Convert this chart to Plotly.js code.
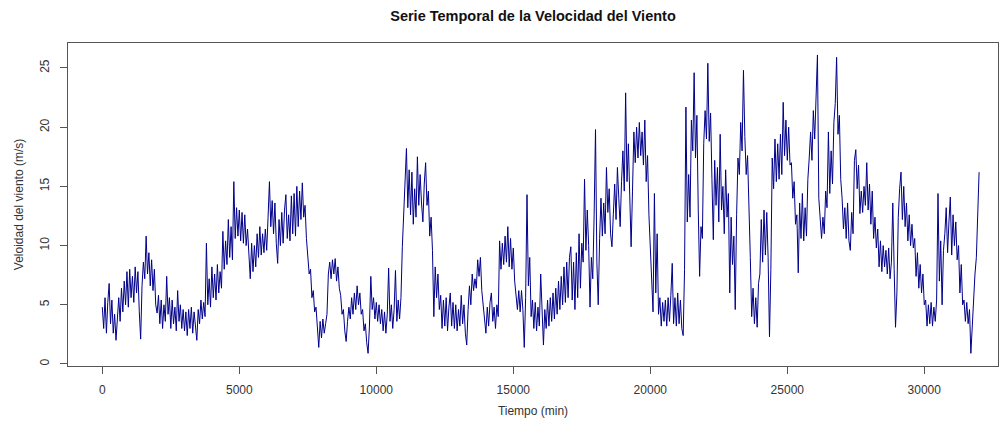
<!DOCTYPE html>
<html>
<head>
<meta charset="utf-8">
<script src="https://cdn.plot.ly/plotly-3.0.1.min.js"></script>
<style>
  html, body { margin: 0; padding: 0; background: #ffffff; overflow: hidden; }
  #chart { width: 1002px; height: 421px; }
</style>
</head>
<body>
<div id="chart"></div>
<script>
// Paso de muestreo (min) entre lecturas
const paso = 50;

const velocidad = [
  // 0 – 3400
  4.8,3.0,5.6,2.6,5.2,6.8,3.4,5.4,2.6,4.2, 2.0,3.8,5.6,3.6,6.4,4.4,7.0,5.0,7.8,4.8,
  8.0,5.6,7.4,5.2,8.2,6.0,7.8,4.4,2.1,6.6, 8.6,7.2,10.8,7.6,9.4,6.6,8.8,6.2,8.0,5.0,
  4.3,5.8,3.4,5.4,3.0,5.0,3.6,7.4,4.2,5.6, 3.0,5.4,3.4,4.8,2.8,6.2,3.6,5.0,3.0,4.6,
  2.8,4.4,2.4,4.6,3.0,4.8,2.6,4.4,3.2,
  // 3450 – 6800
  2.0,4.6,3.4,5.4,3.8,5.2,4.0,10.2,5.0,7.2, 4.8,8.2,5.6,7.6,5.4,8.4,6.0,7.8,6.4,11.2,
  8.0,10.4,8.4,12.2,9.0,11.6,8.8,15.4,10.6,13.2, 10.8,13.0,10.4,12.8,10.2,12.6,10.0,11.4,8.6,7.2,
  10.2,7.8,10.0,8.2,11.0,9.0,11.6,9.2,11.0,9.4, 11.4,9.6,12.4,15.4,11.6,13.8,11.0,13.6,10.2,8.5,
  12.2,10.0,12.8,10.2,13.0,14.3,10.6,12.6,
  // 6850 – 10200
  10.4,14.2,11.0,14.4,10.8,15.0,11.6,14.6,12.2,15.3, 12.4,13.4,10.6,9.0,7.6,8.0,5.6,6.2,4.4,4.8,
  2.6,1.4,3.6,2.2,3.8,2.6,3.4,4.2,7.6,8.6, 7.2,8.8,7.6,8.9,7.0,8.2,6.4,5.8,4.2,4.6,
  2.8,1.9,3.6,4.8,3.8,5.6,4.2,6.0,4.6,6.6, 5.0,6.0,4.2,4.6,2.8,3.4,1.8,0.9,3.2,7.4,
  4.6,5.6,3.8,5.2,3.6,5.0,3.4,4.6,
  // 10250 – 13700
  2.8,4.4,2.6,4.2,8.1,3.6,5.0,3.0,4.6,7.9, 3.6,5.4,3.8,5.6,9.9,12.4,16.0,18.2,13.2,16.4,
  12.6,16.2,11.8,14.8,12.4,17.5,13.4,16.0,13.6,12.0, 15.2,17.0,13.4,14.6,10.8,12.4,9.6,4.0,8.2,5.6,
  7.6,4.6,5.8,3.0,5.4,3.2,5.6,2.8,4.8,6.0, 3.2,5.2,3.0,5.0,2.8,4.6,3.2,5.8,3.4,5.0,
  2.6,1.6,4.6,6.6,5.0,7.6,6.2,7.2,6.4,8.8,
  // 13750 – 17200
  7.4,9.0,6.2,4.8,3.4,2.6,4.8,3.2,5.2,6.0, 3.6,4.8,3.0,5.0,4.0,10.4,8.0,10.2,8.4,10.8,
  8.6,11.6,8.2,10.6,8.0,9.8,7.0,6.0,4.6,6.2, 4.4,6.2,4.6,1.4,5.6,14.3,6.6,9.0,4.0,5.4,
  3.0,5.2,2.8,4.8,3.2,7.6,3.6,1.6,4.6,3.0, 5.4,3.2,5.6,3.6,6.0,3.8,6.4,4.2,7.0,4.6,
  7.4,5.0,8.2,5.2,8.6,5.6,9.0,9.9,5.4,8.6,
  // 17250 – 20700
  4.6,9.4,5.6,11.0,6.4,10.2,8.6,15.6,9.6,13.0, 10.0,4.8,9.0,7.2,12.6,19.8,8.6,5.0,10.6,14.0,
  10.8,13.6,11.0,16.6,12.8,14.8,11.0,9.9,12.6,15.2, 12.2,16.6,14.0,11.6,15.4,18.0,14.6,22.9,15.4,18.6,
  14.2,9.9,14.6,19.6,17.0,20.0,17.4,20.4,17.6,19.6, 16.8,20.6,15.4,17.6,12.6,10.0,6.4,4.4,14.4,6.0,
  11.0,4.2,5.6,3.2,5.2,3.6,5.4,3.2,5.6,3.6,
  // 20750 – 24100
  5.8,8.5,3.4,5.6,3.2,6.0,3.4,5.4,3.0,2.4, 8.0,21.7,12.0,16.0,12.4,20.6,18.0,24.6,17.4,21.0,
  13.0,7.4,11.6,10.6,18.6,21.4,19.0,25.4,18.8,21.2, 15.6,10.5,17.2,13.4,16.6,12.0,19.4,13.0,15.0,11.0,
  16.4,12.4,14.4,6.0,12.4,8.4,10.8,4.6,12.6,17.4, 16.0,20.4,18.0,24.8,19.2,16.0,17.6,13.8,9.0,4.0,
  6.4,3.4,5.6,3.1,6.8,7.6,12.2,8.6,
  // 24150 – 27600
  13.0,9.2,12.8,9.0,2.3,8.0,17.4,14.8,19.0,15.4, 18.6,15.6,19.4,16.0,22.1,17.6,20.6,17.2,20.0,16.8,
  17.0,14.0,15.4,11.8,12.6,7.7,13.6,10.6,14.4,10.4, 13.2,10.8,15.6,17.4,19.6,17.2,21.4,19.0,22.4,26.1,
  14.0,11.8,10.6,12.4,11.0,14.6,13.2,19.6,14.4,18.0, 15.2,20.4,22.0,25.9,19.4,21.0,15.6,14.0,11.4,13.2,
  10.6,13.6,10.4,9.6,12.8,11.0,17.2,18.1,14.8,16.8,
  // 27650 – 32000
  12.7,14.6,12.8,15.0,13.4,17.0,13.0,15.2,11.8,14.6, 10.6,12.4,9.8,11.4,8.2,10.4,7.8,10.0,8.2,9.6,
  7.6,9.8,7.2,8.6,13.6,8.0,3.1,6.0,12.4,14.8, 16.2,12.2,15.0,11.6,13.6,10.4,12.6,10.0,11.8,9.8,
  10.6,7.4,9.4,6.4,8.4,6.0,7.6,5.0,5.4,3.2, 5.0,3.4,5.2,3.2,4.8,3.6,5.4,14.4,7.0,10.4,
  5.0,9.6,11.0,13.2,9.4,12.0,14.1,9.2,12.6,10.0, 12.0,8.8,10.0,6.0,8.4,5.0,5.4,3.6,5.2,3.4,
  4.6,0.9,3.0,6.0,7.6,9.0,12.0,16.2
];

// Índice temporal (min)
const tiempo = velocidad.map((_, i) => i * paso);

// Etiquetas de los ejes
const xTicks = [0, 5000, 10000, 15000, 20000, 25000, 30000];
const yTicks = [0, 5, 10, 15, 20, 25];

const titulo = 'Serie Temporal de la Velocidad del Viento';
const tituloX = 'Tiempo (min)';
const tituloY = 'Veloidad del viento (m/s)';

const fuente = 'Liberation Sans, Arial, Helvetica, sans-serif';

const trace = {
  x: tiempo,
  y: velocidad,
  type: 'scatter',
  mode: 'lines',
  line: { color: '#00008B', width: 1 },
  hoverinfo: 'x+y'
};

const axisCommon = {
  showgrid: false,
  zeroline: false,
  showline: true,
  mirror: true,
  linecolor: '#555555',
  linewidth: 1,
  ticks: 'outside',
  ticklen: 7,
  tickwidth: 1,
  tickcolor: '#555555',
  tickfont: { family: fuente, size: 12, color: '#333333' },
  tickmode: 'array'
};

const layout = {
  width: 1002,
  height: 421,
  margin: { l: 68, r: 4, t: 43, b: 55 },
  paper_bgcolor: '#ffffff',
  plot_bgcolor: '#ffffff',
  showlegend: false,
  font: { family: fuente, color: '#222222', size: 12 },
  title: {
    text: '<b>' + titulo + '</b>',
    font: { family: fuente, size: 14.5, color: '#111111' },
    x: 0.5, xref: 'paper', xanchor: 'center',
    y: 1 - 16 / 421, yref: 'container', yanchor: 'middle'
  },
  xaxis: Object.assign({}, axisCommon, {
    range: [-1252, 32690],
    tickvals: xTicks,
    ticktext: xTicks.map(String),
    ticklabelstandoff: 6,
    title: { text: tituloX, font: { family: fuente, size: 12, color: '#333333' }, standoff: 10 }
  }),
  yaxis: Object.assign({}, axisCommon, {
    range: [-0.17, 27.11],
    tickvals: yTicks,
    ticktext: yTicks.map(String),
    tickangle: -90,
    ticklabelstandoff: 6,
    title: { text: tituloY, font: { family: fuente, size: 12, color: '#333333' }, standoff: 12 }
  })
};

Plotly.newPlot('chart', [trace], layout, { displayModeBar: false, staticPlot: true });
</script>
</body>
</html>
